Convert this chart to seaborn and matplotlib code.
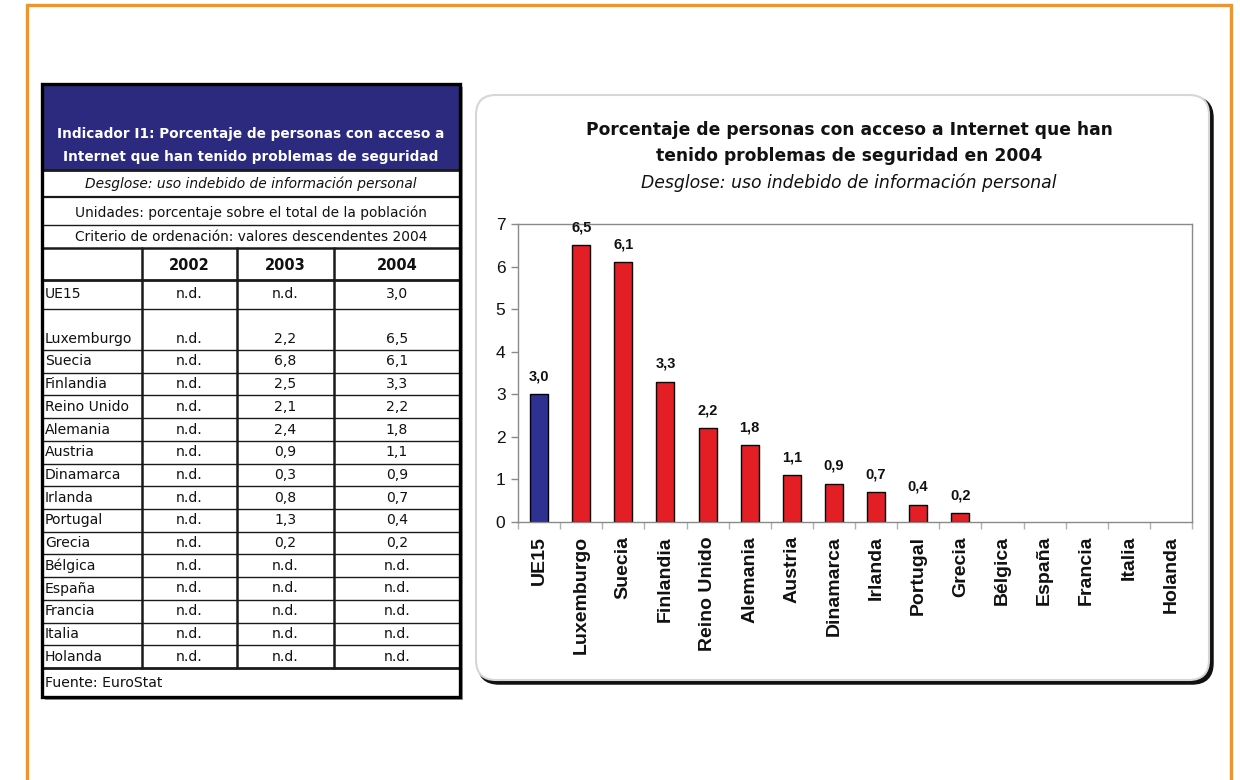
import numpy as np
import pandas as pd
import matplotlib
matplotlib.use("Agg")
import matplotlib.pyplot as plt
from matplotlib.patches import Rectangle, FancyBboxPatch
import seaborn as sns

# ---- data -------------------------------------------------------------
countries = ["UE15", "Luxemburgo", "Suecia", "Finlandia", "Reino Unido",
             "Alemania", "Austria", "Dinamarca", "Irlanda", "Portugal",
             "Grecia", "Bélgica", "España", "Francia", "Italia", "Holanda"]
val_2002 = [None, None, None, None, None, None, None, None,
            None, None, None, None, None, None, None, None]
val_2003 = [None, 2.2, 6.8, 2.5, 2.1, 2.4, 0.9, 0.3,
            0.8, 1.3, 0.2, None, None, None, None, None]
val_2004 = [3.0, 6.5, 6.1, 3.3, 2.2, 1.8, 1.1, 0.9,
            0.7, 0.4, 0.2, None, None, None, None, None]
years = ["2002", "2003", "2004"]
y_ticks = [0, 1, 2, 3, 4, 5, 6, 7]

table_title = ["Indicador I1: Porcentaje de personas con acceso a",
               "Internet que han tenido problemas de seguridad"]
table_breakdown = "Desglose: uso indebido de información personal"
table_units = "Unidades: porcentaje sobre el total de la población"
table_order = "Criterio de ordenación: valores descendentes 2004"
table_source = "Fuente: EuroStat"

chart_title = "Porcentaje de personas con acceso a Internet que han\ntenido problemas de seguridad en 2004"
chart_subtitle = "Desglose: uso indebido de información personal"

NAVY = "#2B2A7E"
BLUE = "#2E3192"
RED = "#E31E24"
ORANGE = "#F7941D"


def fmt(v):
    return "n.d." if v is None else f"{v:.1f}".replace(".", ",")


sns.set_theme(style="white")
plt.rcParams["font.family"] = ["DejaVu Sans"]

W, H = 1240, 780
fig = plt.figure(figsize=(W / 100, H / 100), dpi=100)
fig.patch.set_facecolor("white")

# full-figure canvas in pixel units for the frame, table and chart box
bg = fig.add_axes([0, 0, 1, 1])
bg.set_xlim(0, W)
bg.set_ylim(H, 0)
bg.axis("off")

# orange page frame (open at the bottom)
bg.plot([27, 27, 1231, 1231], [H, 5, 5, H], color=ORANGE, lw=2.4,
        solid_joinstyle="miter")

# ---- table --------------------------------------------------------------
tx0, tx1 = 42, 460
ty0, ty1 = 84, 697
col_x = [42, 142, 237, 334, 460]
bg.add_patch(Rectangle((tx0 + 3, ty0 + 3), tx1 - tx0, ty1 - ty0,
                       facecolor="#9a9a9a", edgecolor="none", zorder=1))
bg.add_patch(Rectangle((tx0, ty0), tx1 - tx0, ty1 - ty0,
                       facecolor="white", edgecolor="none", zorder=2))
bg.add_patch(Rectangle((tx0, ty0), tx1 - tx0, 170 - ty0,
                       facecolor=NAVY, edgecolor="none", zorder=2))

bg.text(251, 134, table_title[0], color="white", fontsize=9.85,
        fontweight="bold", ha="center", va="center", zorder=4)
bg.text(251, 157, table_title[1], color="white", fontsize=9.85,
        fontweight="bold", ha="center", va="center", zorder=4)
bg.text(251, 184, table_breakdown, color="#111111", fontsize=9.95,
        style="italic", ha="center", va="center", zorder=4)
bg.text(251, 213, table_units, color="#111111", fontsize=9.9,
        ha="center", va="center", zorder=4)
bg.text(251, 237, table_order, color="#111111", fontsize=9.9,
        ha="center", va="center", zorder=4)

col_centers = [(col_x[i] + col_x[i + 1]) / 2 for i in range(4)]
for yr, cx in zip(years, col_centers[1:]):
    bg.text(cx, 265, yr, fontsize=10.5, fontweight="bold", ha="center",
            va="center", color="#111111", zorder=4)

# row boundaries of the data block
row_edges = [280, 309, 350]
step = (668 - 350) / 14
for i in range(1, 15):
    row_edges.append(350 + i * step)

for i, name in enumerate(countries):
    top, bot = row_edges[i], row_edges[i + 1]
    yc = bot - 11 if i == 1 else (top + bot) / 2
    bg.text(45, yc, name, fontsize=10.1, ha="left", va="center",
            color="#111111", zorder=4)
    for vals, cx in zip([val_2002, val_2003, val_2004], col_centers[1:]):
        bg.text(cx, yc, fmt(vals[i]), fontsize=10.1, ha="center",
                va="center", color="#111111", zorder=4)

bg.text(45, 683, table_source, fontsize=10.1, ha="left", va="center",
        color="#111111", zorder=4)

# table rules
lc = "#1a1a1a"
for y, lw in [(170, 2.0), (197, 1.6), (225, 1.0), (248, 1.8), (280, 2.0),
              (668, 2.0)]:
    bg.plot([tx0, tx1], [y, y], color=lc, lw=lw, zorder=5)
for y in row_edges[1:-1]:
    bg.plot([tx0, tx1], [y, y], color=lc, lw=1.0, zorder=5)
for x in col_x[1:-1]:
    bg.plot([x, x], [248, 668], color=lc, lw=1.8, zorder=5)
bg.add_patch(Rectangle((tx0, ty0), tx1 - tx0, ty1 - ty0, facecolor="none",
                       edgecolor="#000000", lw=2.4, zorder=6))

# ---- chart box ----------------------------------------------------------
bg.add_patch(FancyBboxPatch((479, 98), 733, 585,
                            boxstyle="round,pad=0,rounding_size=20",
                            facecolor="#111111", edgecolor="#111111",
                            lw=2.5, zorder=1))
bg.add_patch(FancyBboxPatch((476, 95), 733, 585,
                            boxstyle="round,pad=0,rounding_size=20",
                            facecolor="white", edgecolor="#d6d6d6",
                            lw=1.5, zorder=2))
bg.text(849, 143, chart_title, fontsize=12.3, fontweight="bold",
        ha="center", va="center", linespacing=1.55, color="#111111",
        zorder=4)
bg.text(849, 183, chart_subtitle, fontsize=12.4, style="italic",
        ha="center", va="center", color="#111111", zorder=4)

# ---- bar chart ------------------------------------------------------------
ax = fig.add_axes([518 / W, (H - 522) / H, 674 / W, 298 / H])
ax.set_facecolor("white")
df = pd.DataFrame({"pais": countries,
                   "valor": [np.nan if v is None else v for v in val_2004]})
palette = {c: (BLUE if c == "UE15" else RED) for c in countries}
sns.barplot(data=df, x="pais", y="valor", hue="pais", order=countries,
            hue_order=countries, palette=palette, legend=False, dodge=False,
            width=0.43, edgecolor="black", linewidth=1.0, saturation=1,
            ax=ax)

for cont in ax.containers:
    labels = ["" if not np.isfinite(v) else fmt(float(v))
              for v in cont.datavalues]
    ax.bar_label(cont, labels=labels, padding=8, fontsize=10.5,
                 fontweight="bold", family=["Liberation Sans"],
                 color="#111111")

ax.set_ylim(0, 7)
ax.set_xlim(-0.5, len(countries) - 0.5)
ax.set_yticks(y_ticks)
ax.set_yticklabels([str(t) for t in y_ticks], fontsize=12.5,
                   family=["Liberation Sans"], color="#111111")
ax.set_xticks(range(len(countries)))
ax.set_xticklabels(countries, rotation=90, fontsize=14, fontweight="bold",
                   family=["Liberation Sans"], color="#111111")
ax.set_xticks(np.arange(-0.5, len(countries), 1), minor=True)
ax.tick_params(axis="x", which="major", length=0, pad=10)
ax.tick_params(axis="x", which="minor", length=5, width=1, color="#b0b0b0",
               direction="out", bottom=True)
ax.tick_params(axis="y", which="major", length=5, width=1, color="#8a8a8a",
               direction="out", left=True, pad=4)
ax.set_xlabel("")
ax.set_ylabel("")
for side, sp in ax.spines.items():
    sp.set_visible(True)
    sp.set_color("#8a8a8a")
    sp.set_linewidth(1.0)

fig.savefig("out.png", dpi=100, facecolor="white")
